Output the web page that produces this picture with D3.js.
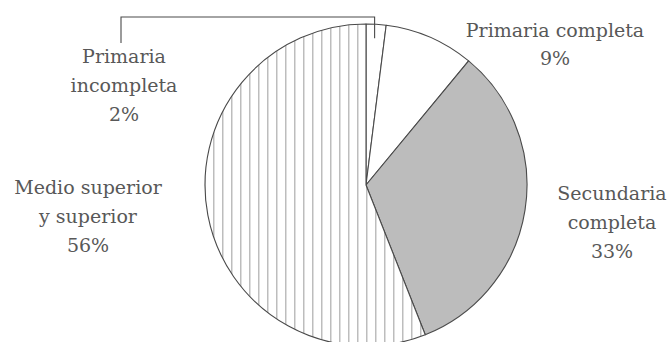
<!DOCTYPE html>
<html>
<head>
<meta charset="utf-8">
<script src="https://cdn.jsdelivr.net/npm/d3@7"></script>
<style>
  html, body { margin: 0; padding: 0; background: #ffffff; }
  svg { display: block; }
  text { font-family: "DejaVu Serif", "Liberation Serif", serif; fill: #585858; }
</style>
</head>
<body>
<svg id="chart" width="669" height="342"></svg>
<script>
// Nivel educativo (porcentaje)
const categories = ["Primaria incompleta", "Primaria completa", "Secundaria completa", "Medio superior y superior"];
const values = [2, 9, 33, 56];
const labelLines = [
  ["Primaria", "incompleta", "2%"],
  ["Primaria completa", "9%"],
  ["Secundaria", "completa", "33%"],
  ["Medio superior", "y superior", "56%"]
];

const svg = d3.select("#chart");
const cx = 366, cy = 185, radius = 161;

// vertical hatching for the largest slice
const defs = svg.append("defs");
const pat = defs.append("pattern")
  .attr("id", "vstripes")
  .attr("patternUnits", "userSpaceOnUse")
  .attr("width", 9).attr("height", 9);
pat.append("rect").attr("width", 9).attr("height", 9).attr("fill", "#fff");
pat.append("line")
  .attr("x1", 0.75).attr("x2", 0.75).attr("y1", 0).attr("y2", 9)
  .attr("stroke", "#bdbdbd").attr("stroke-width", 1.5);

const fills = d3.scaleOrdinal()
  .domain(categories)
  .range(["#ffffff", "#ffffff", "#bcbcbc", "url(#vstripes)"]);

const pie = d3.pie().sort(null).value(d => d.value).startAngle(0).endAngle(2 * Math.PI);
const arc = d3.arc().innerRadius(0).outerRadius(radius);
const data = categories.map((c, i) => ({ name: c, value: values[i] }));
const arcs = pie(data);

const g = svg.append("g").attr("transform", `translate(${cx},${cy})`);
g.selectAll("path")
  .data(arcs)
  .join("path")
  .attr("d", arc)
  .attr("fill", d => fills(d.data.name))
  .attr("stroke", "#4a4a4a")
  .attr("stroke-width", 1.1)
  .attr("stroke-linejoin", "round");

// leader line for the smallest slice
const small = arcs[0];
const midA = (small.startAngle + small.endAngle) / 2;
const lx = cx + Math.sin(midA) * (radius - 8) - 1;
const topY = 17;
const labelX = 121;
svg.append("path")
  .attr("d", `M${lx},${cy - Math.cos(midA) * (radius - 14)} V${topY} H${labelX} V43`)
  .attr("fill", "none")
  .attr("stroke", "#4a4a4a")
  .attr("stroke-width", 1.1);

// labels
const labelPos = [
  { x: 124, y: 63 },
  { x: 555, y: 37 },
  { x: 612, y: 200 },
  { x: 88, y: 194 }
];
const lineH = 29;
labelLines.forEach((lines, i) => {
  const t = svg.append("text")
    .attr("text-anchor", "middle")
    .attr("font-size", 19);
  lines.forEach((s, j) => {
    t.append("tspan")
      .attr("x", labelPos[i].x)
      .attr("y", labelPos[i].y + j * (i === 1 ? 28 : lineH))
      .text(s);
  });
});
</script>
</body>
</html>
